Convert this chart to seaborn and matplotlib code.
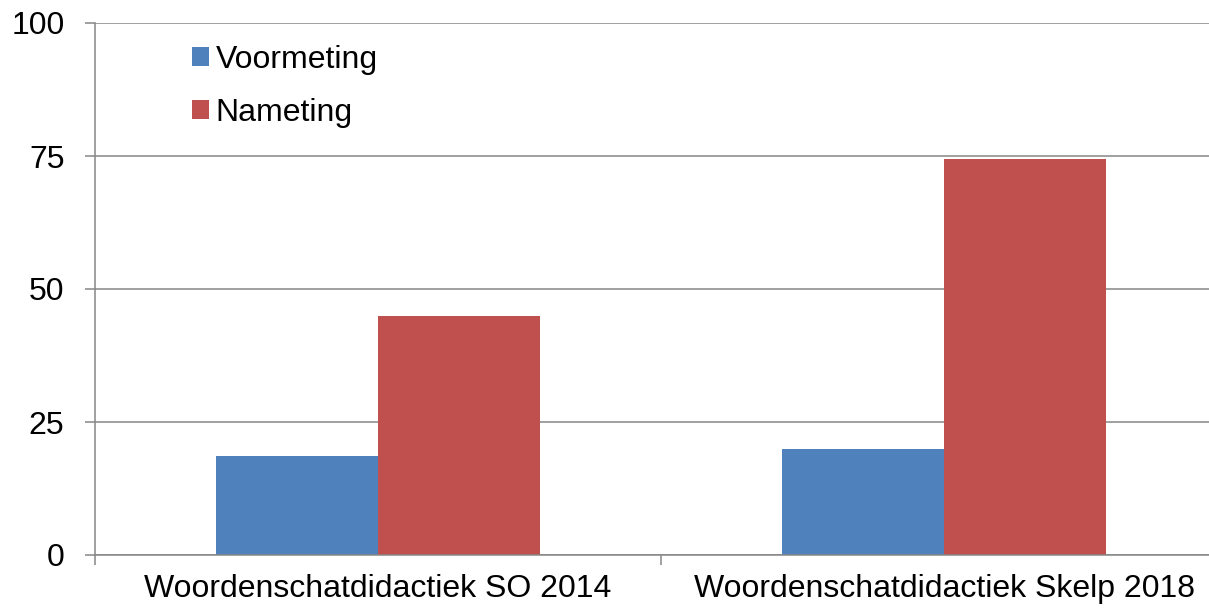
import pandas as pd
import matplotlib.pyplot as plt
import seaborn as sns
from matplotlib.ticker import FixedLocator

# data
categories = ['Woordenschatdidactiek SO 2014', 'Woordenschatdidactiek Skelp 2018']
series = ['Voormeting', 'Nameting']
voormeting = [18.6, 19.9]
nameting = [44.9, 74.4]
colors = ['#4F81BD', '#C0504D']

df = pd.DataFrame({
    'categorie': categories * 2,
    'meting': [series[0]] * 2 + [series[1]] * 2,
    'score': voormeting + nameting,
})

sns.set_style('white')
plt.rcParams['font.family'] = ['Liberation Sans', 'DejaVu Sans']
plt.rcParams['text.color'] = 'black'

fig = plt.figure(figsize=(12.09, 6.10), dpi=100)
ax = fig.add_axes([95 / 1209, 55 / 610, 1132 / 1209, 532 / 610])

sns.barplot(data=df, x='categorie', y='score', hue='meting', hue_order=series,
            palette=colors, width=0.572, saturation=1, ax=ax, edgecolor='none',
            errorbar=None)

ax.set_xlim(-0.5, 1.5)
ax.set_ylim(0, 100)
ax.set_yticks([0, 25, 50, 75, 100])
ax.yaxis.grid(True, color='#868686', linewidth=1.1)
ax.set_axisbelow(True)
ax.set_xlabel('')
ax.set_ylabel('')

for s in ['top', 'right']:
    ax.spines[s].set_visible(False)
for s in ['left', 'bottom']:
    ax.spines[s].set_color('#868686')
    ax.spines[s].set_linewidth(1.1)

ax.tick_params(axis='y', labelsize=23, length=7, width=1.1, color='#868686',
               labelcolor='black', pad=15, left=True)
ax.tick_params(axis='x', which='major', labelsize=23, length=0, pad=14, labelcolor='black')
ax.xaxis.set_minor_locator(FixedLocator([-0.5, 0.5, 1.5]))
ax.tick_params(axis='x', which='minor', length=7, width=1.1, color='#868686', bottom=True)

leg = ax.legend(loc='upper left', bbox_to_anchor=(0.074, 0.983), frameon=False,
                fontsize=23, handlelength=0.55, handleheight=0.55, handletextpad=0.2,
                labelspacing=0.73, borderaxespad=0)
for t in leg.get_texts():
    t.set_color('black')

fig.savefig('out.png', dpi=100)
